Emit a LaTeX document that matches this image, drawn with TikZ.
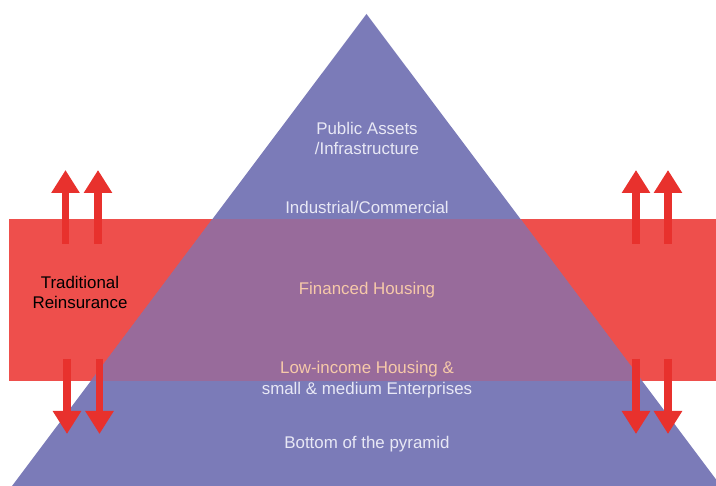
\documentclass[tikz,border=0pt]{standalone}
\usepackage{fontspec}
\setmainfont{Liberation Sans}
\usetikzlibrary{arrows.meta}
\definecolor{pyr}{HTML}{7B7BB8}
\definecolor{band}{HTML}{EE4F4C}
\definecolor{ovl}{HTML}{986B9B}
\definecolor{arr}{HTML}{E8312D}
\definecolor{lite}{HTML}{E8E8F5}
\definecolor{peach}{HTML}{F6C9A9}
\tikzset{
  lbl/.style={font=\fontsize{16.9}{20}\selectfont, align=center, inner sep=0pt},
  bigarrow/.style={draw=arr, line width=7.5pt, -{Triangle[length=23pt,width=27pt]}}
}
\begin{document}
\begin{tikzpicture}[x=1pt,y=-1pt]
\useasboundingbox (0,0) rectangle (716,486);
\begin{scope}
\clip (0,0) rectangle (716,486);
\fill[band] (9,219) rectangle (716,381);
\fill[pyr] (366.5,14) -- (12,486) -- (721,486) -- cycle;
\begin{scope}
\clip (366.5,14) -- (12,486) -- (721,486) -- cycle;
\fill[ovl] (9,219) rectangle (716,381);
\end{scope}
\end{scope}
% arrows
\coordinate (lu1a) at (65.5,244); \coordinate (lu1b) at (65.5,170);
\coordinate (lu2a) at (98,244);   \coordinate (lu2b) at (98,170);
\coordinate (ld1a) at (67,359);   \coordinate (ld1b) at (67,434);
\coordinate (ld2a) at (99.5,359); \coordinate (ld2b) at (99.5,434);
\coordinate (ru1a) at (636,244);  \coordinate (ru1b) at (636,170);
\coordinate (ru2a) at (668,244);  \coordinate (ru2b) at (668,170);
\coordinate (rd1a) at (636,359);  \coordinate (rd1b) at (636,434);
\coordinate (rd2a) at (668,359);  \coordinate (rd2b) at (668,434);
\draw[bigarrow] (lu1a) -- (lu1b);
\draw[bigarrow] (lu2a) -- (lu2b);
\draw[bigarrow] (ld1a) -- (ld1b);
\draw[bigarrow] (ld2a) -- (ld2b);
\draw[bigarrow] (ru1a) -- (ru1b);
\draw[bigarrow] (ru2a) -- (ru2b);
\draw[bigarrow] (rd1a) -- (rd1b);
\draw[bigarrow] (rd2a) -- (rd2b);
% labels
\node[lbl, text=lite] (pub) at (367,138) {Public Assets\\/Infrastructure};
\node[lbl, text=lite] (ind) at (367,207) {Industrial/Commercial};
\node[lbl, text=peach] (fin) at (367,290) {Financed Housing};
\node[lbl, text=peach] (low) at (367,369) {Low-income Housing \&};
\node[lbl, text=lite] (sme) at (367,390) {small \& medium Enterprises};
\node[lbl, text=lite] (bot) at (367,444) {Bottom of the pyramid};
\node[lbl, text=black] (tr) at (80,292) {Traditional\\Reinsurance};
\end{tikzpicture}
\end{document}
